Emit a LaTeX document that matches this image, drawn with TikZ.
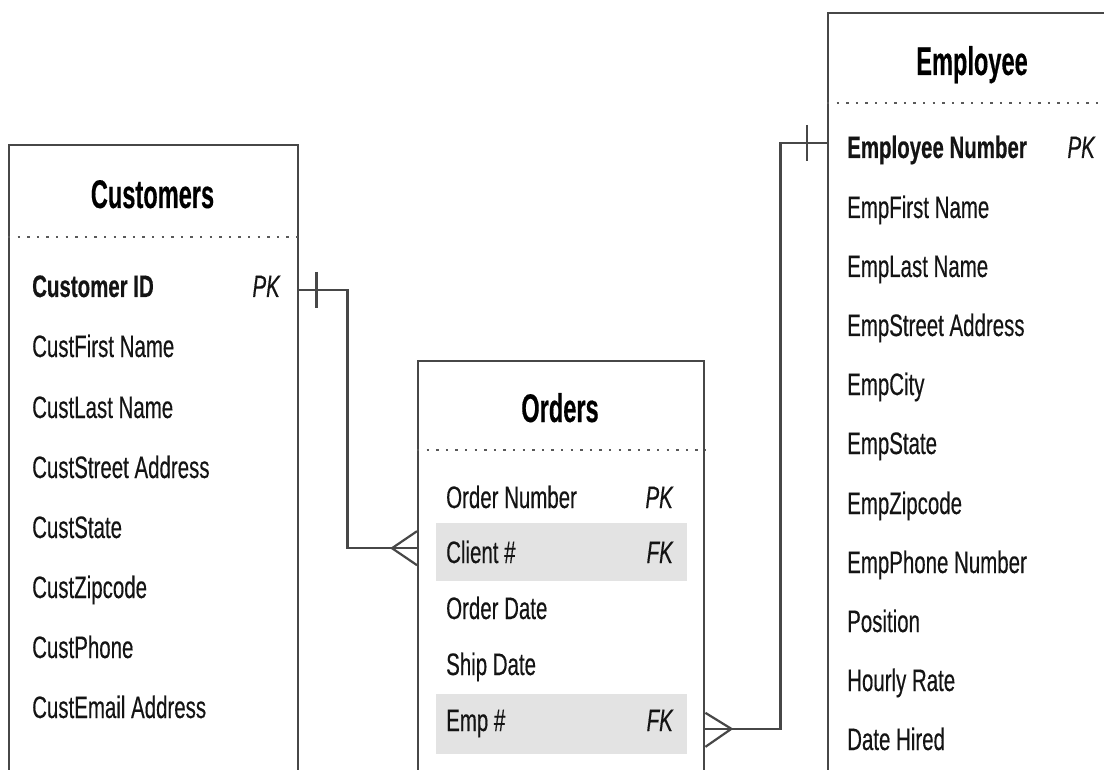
\documentclass[tikz,border=0pt]{standalone}
\usepackage{fontspec}
\newfontfamily\rowfont[FakeStretch=0.66,FakeBold=0.35]{Liberation Sans}
\newfontfamily\ttlfont[FakeStretch=0.59,FakeBold=0.3]{Liberation Sans}
\begin{document}
\begin{tikzpicture}[x=1pt,y=-1pt,
  tbl/.style={draw=black!72, line width=2.4pt, anchor=north west, inner sep=0pt, minimum height=900pt},
  ttl/.style={anchor=base, inner sep=0pt, font=\ttlfont\fontsize{40}{40}\selectfont\bfseries, text=black},
  fld/.style={anchor=base west, inner sep=0pt, font=\rowfont\fontsize{31}{31}\selectfont, text=black!92},
  keyfld/.style={anchor=base east, inner sep=0pt, font=\rowfont\fontsize{31}{31}\selectfont\itshape, text=black!92},
  shadebar/.style={fill=black!11, inner sep=0pt, anchor=north west},
  dotrule/.style={draw=black!65, line width=2.4pt, dash pattern=on 2.4pt off 7.2pt},
  conn/.style={draw=black!72, line width=2.2pt}]
\useasboundingbox (0,0) rectangle (1104,770);
\clip (0,0) rectangle (1104,770);

% shaded rows in Orders
\node[shadebar, minimum width=251pt, minimum height=58pt] (clientbg) at (436,523) {};
\node[shadebar, minimum width=251pt, minimum height=60pt] (empbg) at (436,694) {};

% tables
\node[tbl, minimum width=289pt] (cust) at (8,144) {};
\node[tbl, minimum width=286pt] (orders) at (417,360) {};
\node[tbl, minimum width=290pt] (employee) at (827,12) {};

% titles and dotted rules
\node[ttl] (custtitle) at (152.5,208) {Customers};
\node[ttl] (ordtitle) at (560,422) {Orders};
\node[ttl] (emptitle) at (972,75) {Employee};
\draw[dotrule] (cust.west |- 0,237) -- (cust.east |- 0,237);
\draw[dotrule] (orders.west |- 0,450) -- (orders.east |- 0,450);
\draw[dotrule] (employee.west |- 0,103) -- (employee.east |- 0,103);

% Customers fields
\node[fld, font=\rowfont\fontsize{31}{31}\selectfont\bfseries] (custid) at (32,297) {Customer ID};
\node[keyfld] (custpk) at (280,297) {PK};
\node[fld] (cfirst) at (32,357) {CustFirst Name};
\node[fld] (clast) at (32,418) {CustLast Name};
\node[fld] (cstreet) at (32,478) {CustStreet Address};
\node[fld] (cstate) at (32,538) {CustState};
\node[fld] (czip) at (32,598) {CustZipcode};
\node[fld] (cphone) at (32,658) {CustPhone};
\node[fld] (cemail) at (32,718) {CustEmail Address};

% Orders fields
\node[fld] (ordnum) at (446,508) {Order Number};
\node[keyfld] (ordpk) at (673,508) {PK};
\node[fld] (client) at (446,563) {Client \#};
\node[keyfld] (clientfk) at (673,563) {FK};
\node[fld] (orddate) at (446,619) {Order Date};
\node[fld] (shipdate) at (446,675) {Ship Date};
\node[fld] (emprow) at (446,731) {Emp \#};
\node[keyfld] (empfk) at (673,731) {FK};

% Employee fields
\node[fld, font=\rowfont\fontsize{31}{31}\selectfont\bfseries] (empnum) at (847,158) {Employee Number};
\node[keyfld] (emppk) at (1095,158) {PK};
\node[fld] (efirst) at (847,218) {EmpFirst Name};
\node[fld] (elast) at (847,277) {EmpLast Name};
\node[fld] (estreet) at (847,336) {EmpStreet Address};
\node[fld] (ecity) at (847,395) {EmpCity};
\node[fld] (estate) at (847,454) {EmpState};
\node[fld] (ezip) at (847,514) {EmpZipcode};
\node[fld] (ephone) at (847,573) {EmpPhone Number};
\node[fld] (epos) at (847,632) {Position};
\node[fld] (erate) at (847,691) {Hourly Rate};
\node[fld] (ehired) at (847,750) {Date Hired};

% Customers -- Orders (one to many)
\draw[conn] ([yshift=5pt]cust.east |- custid.mid) -- ++(48,0) |- ([yshift=4pt]orders.west |- clientbg.center);
\draw[conn] ([yshift=5pt,xshift=17pt]cust.east |- custid.mid) ++(0,-18) -- ++(0,36);
\draw[conn] ([yshift=4pt]orders.west |- clientbg.center) ++(0,-17) -- ++(-25,17) -- ++(25,17);

% Orders -- Employee (many to one)
\draw[conn] (orders.east |- emprow.mid) -- ++(75,0) |- ([yshift=13pt]employee.west |- empnum.mid);
\draw[conn] ([yshift=13pt,xshift=-20pt]employee.west |- empnum.mid) ++(0,-18) -- ++(0,36);
\draw[conn] (orders.east |- emprow.mid) ++(0,-16) -- ++(26,16) -- ++(-26,18);
\end{tikzpicture}
\end{document}
